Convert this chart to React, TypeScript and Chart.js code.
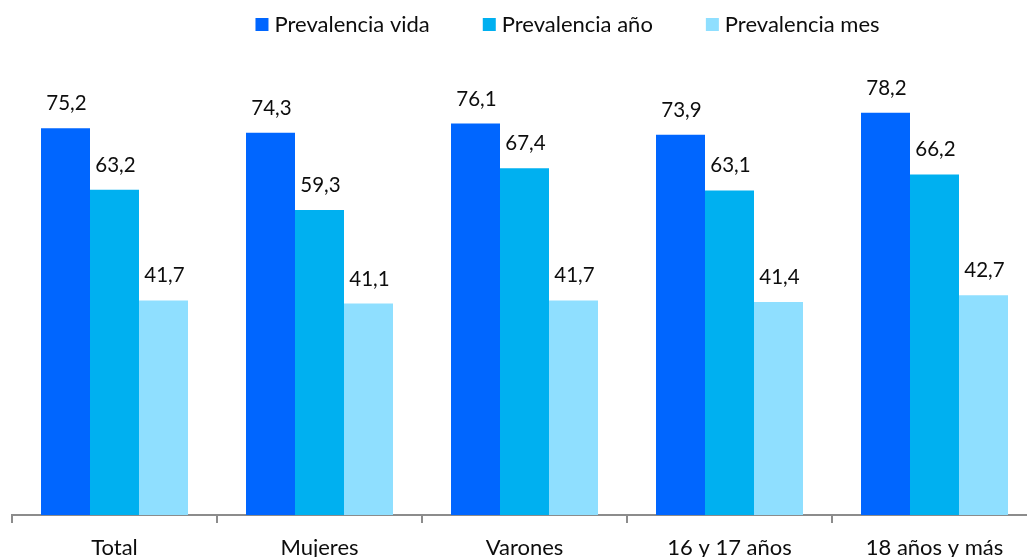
import React, { useEffect, useRef } from "react";
import { Chart, registerables } from "chart.js";

Chart.register(...registerables);

const categories = ["Total", "Mujeres", "Varones", "16 y 17 años", "18 años y más"];
const seriesNames = ["Prevalencia vida", "Prevalencia año", "Prevalencia mes"];
const prevalenciaVida = [75.2, 74.3, 76.1, 73.9, 78.2];
const prevalenciaAno = [63.2, 59.3, 67.4, 63.1, 66.2];
const prevalenciaMes = [41.7, 41.1, 41.7, 41.4, 42.7];
const seriesColors = ["#0066ff", "#00b0f0", "#8fdfff"];

const FONT = "Lato, 'Open Sans', sans-serif";

const fmt = (v: number) => v.toFixed(1).replace(".", ",");

const labelPlugin = {
  id: "barLabels",
  afterDatasetsDraw(chart: any) {
    const ctx = chart.ctx;
    ctx.save();
    ctx.font = `20.5px ${FONT}`;
    ctx.fillStyle = "#0d0d0d";
    ctx.textAlign = "center";
    ctx.textBaseline = "alphabetic";
    chart.data.datasets.forEach((ds: any, i: number) => {
      const meta = chart.getDatasetMeta(i);
      meta.data.forEach((bar: any, j: number) => {
        ctx.fillText(fmt(ds.data[j]), bar.x + 1, bar.y - 18);
      });
    });
    ctx.restore();
  },
};

const legendPlugin = {
  id: "customLegend",
  afterDraw(chart: any) {
    const ctx = chart.ctx;
    ctx.save();
    ctx.font = `22px ${FONT}`;
    const box = 13;
    const boxGap = 6;
    const itemGap = 53;
    const widths = chart.data.datasets.map((ds: any) => ctx.measureText(ds.label).width);
    const total =
      widths.reduce((a: number, b: number) => a + b, 0) +
      chart.data.datasets.length * (box + boxGap) +
      (chart.data.datasets.length - 1) * itemGap;
    let x = 567.5 - total / 2;
    const baseline = 32;
    chart.data.datasets.forEach((ds: any, i: number) => {
      ctx.fillStyle = ds.backgroundColor;
      ctx.fillRect(x, 18, box, box);
      x += box + boxGap;
      ctx.fillStyle = "#0d0d0d";
      ctx.textAlign = "left";
      ctx.textBaseline = "alphabetic";
      ctx.fillText(ds.label, x, baseline);
      x += widths[i] + itemGap;
    });
    ctx.restore();
  },
};

export default function App() {
  const ref = useRef<HTMLCanvasElement>(null);
  useEffect(() => {
    if (!ref.current) return;
    const chart = new Chart(ref.current, {
      type: "bar",
      data: {
        labels: categories,
        datasets: [prevalenciaVida, prevalenciaAno, prevalenciaMes].map((d, i) => ({
          label: seriesNames[i],
          data: d,
          backgroundColor: seriesColors[i],
          borderWidth: 0,
          barPercentage: 1,
          categoryPercentage: 0.717,
        })),
      },
      options: {
        responsive: false,
        animation: false,
        layout: { padding: { left: 12, right: 3, top: 52, bottom: 0 } },
        plugins: {
          legend: { display: false },
          tooltip: { enabled: false },
        },
        scales: {
          x: {
            grid: {
              display: true,
              drawOnChartArea: false,
              drawTicks: true,
              tickLength: 8,
              offset: true,
              color: "#8c8c8c",
              lineWidth: 2,
            },
            border: { display: true, color: "#8c8c8c", width: 2 },
            ticks: {
              color: "#0d0d0d",
              font: { family: FONT, size: 22 },
              padding: 12,
              maxRotation: 0,
              autoSkip: false,
            },
            afterFit(scale: any) {
              scale.height = 42;
            },
          },
          y: {
            display: false,
            min: 0,
            max: 90,
          },
        },
      },
      plugins: [labelPlugin, legendPlugin],
    });
    return () => chart.destroy();
  }, []);
  return (
    <div
      style={{
        position: "fixed",
        left: 0,
        top: 0,
        width: 1027,
        height: 557,
        overflow: "hidden",
        background: "#fff",
      }}
    >
      <canvas ref={ref} width={1040} height={557} style={{ display: "block" }} />
    </div>
  );
}
